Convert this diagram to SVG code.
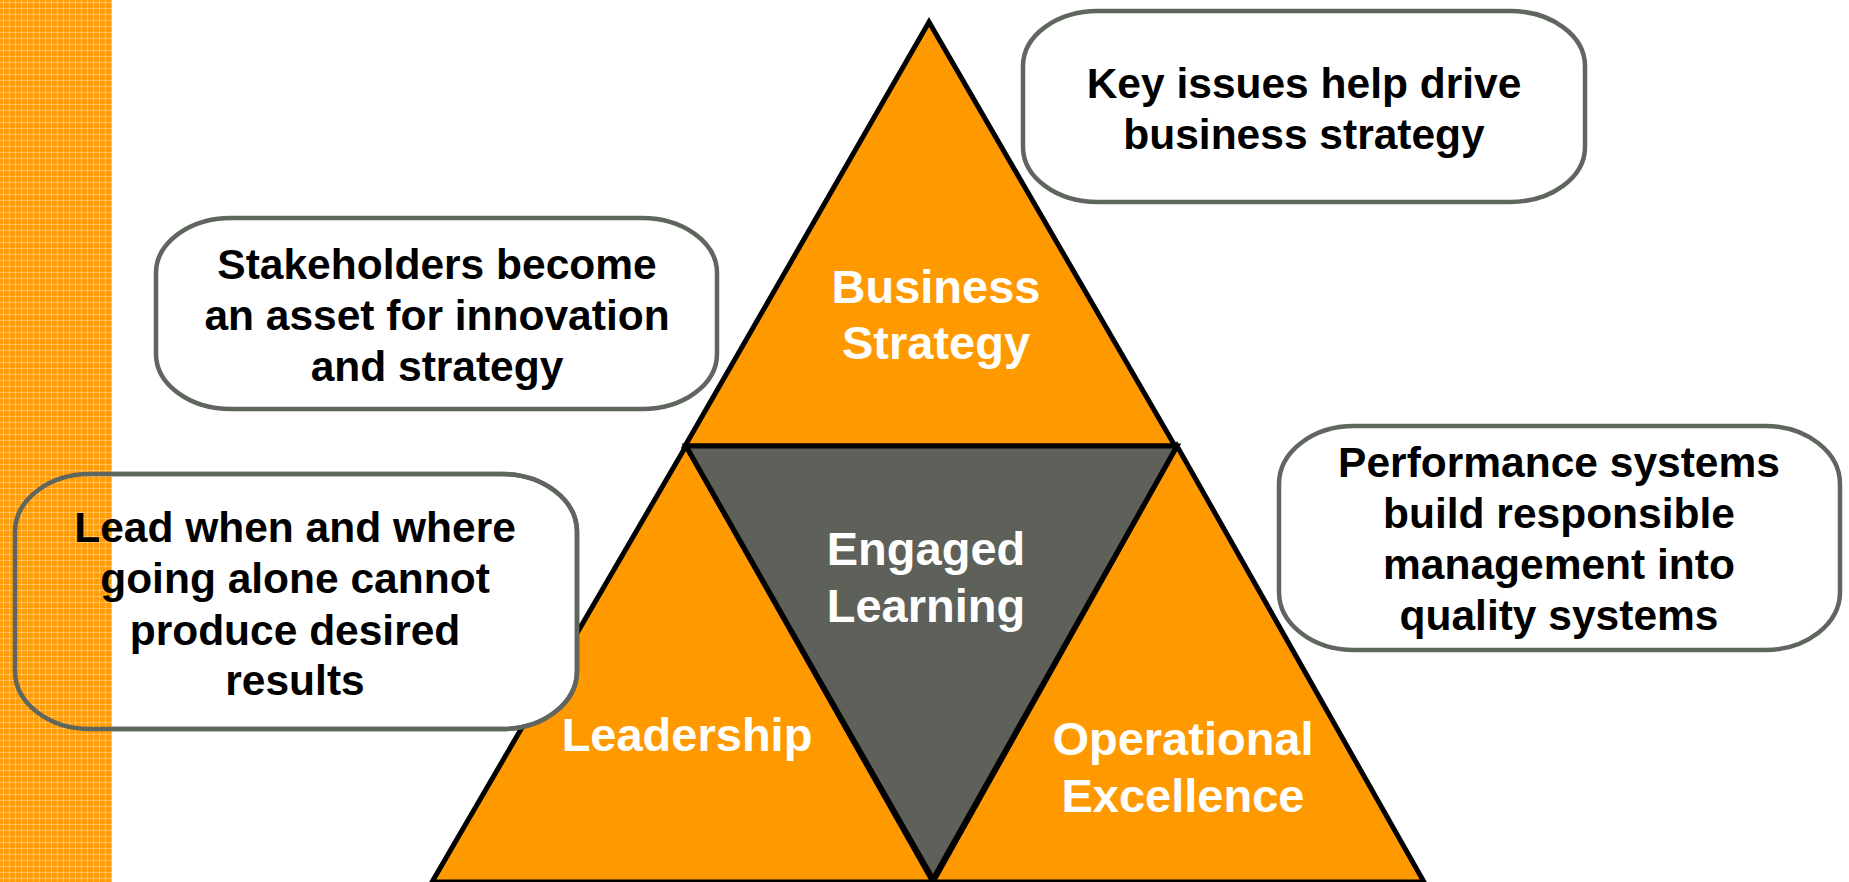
<svg xmlns="http://www.w3.org/2000/svg" width="1849" height="882" viewBox="0 0 1849 882">
<style>
.tri{stroke:#000;stroke-width:5;stroke-linejoin:miter}
.org{fill:#FF9900}
.gry{fill:#5E6159}
.lbl{font-family:"Liberation Sans",Arial,sans-serif;font-weight:bold;font-size:47px;fill:#fff;text-anchor:middle}
.box{fill:#fff;stroke:#5F665E;stroke-width:4.5}
.boxline{fill:none;stroke:#5F665E;stroke-width:4.5}
.btx{font-family:"Liberation Sans",Arial,sans-serif;font-weight:bold;font-size:42.5px;fill:#000;text-anchor:middle}
</style>
<defs>
<pattern id="plaid" width="6" height="6" patternUnits="userSpaceOnUse">
<rect width="6" height="6" fill="#FF9D0A"/>
<rect x="0" y="2" width="6" height="1" fill="#FFBE5C"/>
<rect x="3" y="0" width="1" height="6" fill="#FFBE5C"/>
<rect x="3" y="2" width="1" height="1" fill="#FFD9A0"/>
</pattern>
</defs>
<rect width="1849" height="882" fill="#fff"/>
<g id="triangles">
<g id="business-strategy">
<polygon class="tri org" points="929,22 685,446 1175,446"/>
<text class="lbl" x="936" y="303">Business</text>
<text class="lbl" x="936" y="359">Strategy</text>
</g>
<g id="leadership">
<polygon class="tri org" points="686,446 432,882 933,882"/>
<text class="lbl" x="687" y="751">Leadership</text>
</g>
<g id="operational-excellence">
<polygon class="tri org" points="1177,446 933,882 1424,882"/>
<text class="lbl" x="1183" y="755">Operational</text>
<text class="lbl" x="1183" y="812">Excellence</text>
</g>
<g id="engaged-learning">
<polygon class="tri gry" points="686,446 1177,446 933,879"/>
<text class="lbl" x="926" y="565">Engaged</text>
<text class="lbl" x="926" y="622">Learning</text>
</g>
</g>
<g id="lead-box-fill">
<rect class="box" x="15" y="474" width="562" height="255" rx="75" ry="58" stroke="none"/>
</g>
<rect id="side-strip" x="0" y="0" width="112" height="882" fill="url(#plaid)"/>
<g id="box-key-issues">
<rect class="box" x="1023" y="11" width="562" height="191" rx="75" ry="55"/>
<text class="btx" x="1304" y="98">Key issues help drive</text>
<text class="btx" x="1304" y="149">business strategy</text>
</g>
<g id="box-stakeholders">
<rect class="box" x="156" y="218" width="561" height="191" rx="75" ry="55"/>
<text class="btx" x="437" y="279">Stakeholders become</text>
<text class="btx" x="437" y="330">an asset for innovation</text>
<text class="btx" x="437" y="381">and strategy</text>
</g>
<g id="box-lead">
<rect class="boxline" x="15" y="474" width="562" height="255" rx="75" ry="58"/>
<text class="btx" x="295" y="542">Lead when and where</text>
<text class="btx" x="295" y="593">going alone cannot</text>
<text class="btx" x="295" y="645">produce desired</text>
<text class="btx" x="295" y="695">results</text>
</g>
<g id="box-performance">
<rect class="box" x="1279" y="426" width="561" height="224" rx="75" ry="58"/>
<text class="btx" x="1559" y="477">Performance systems</text>
<text class="btx" x="1559" y="528">build responsible</text>
<text class="btx" x="1559" y="579">management into</text>
<text class="btx" x="1559" y="630">quality systems</text>
</g>
<g id="connectors"/>
</svg>
